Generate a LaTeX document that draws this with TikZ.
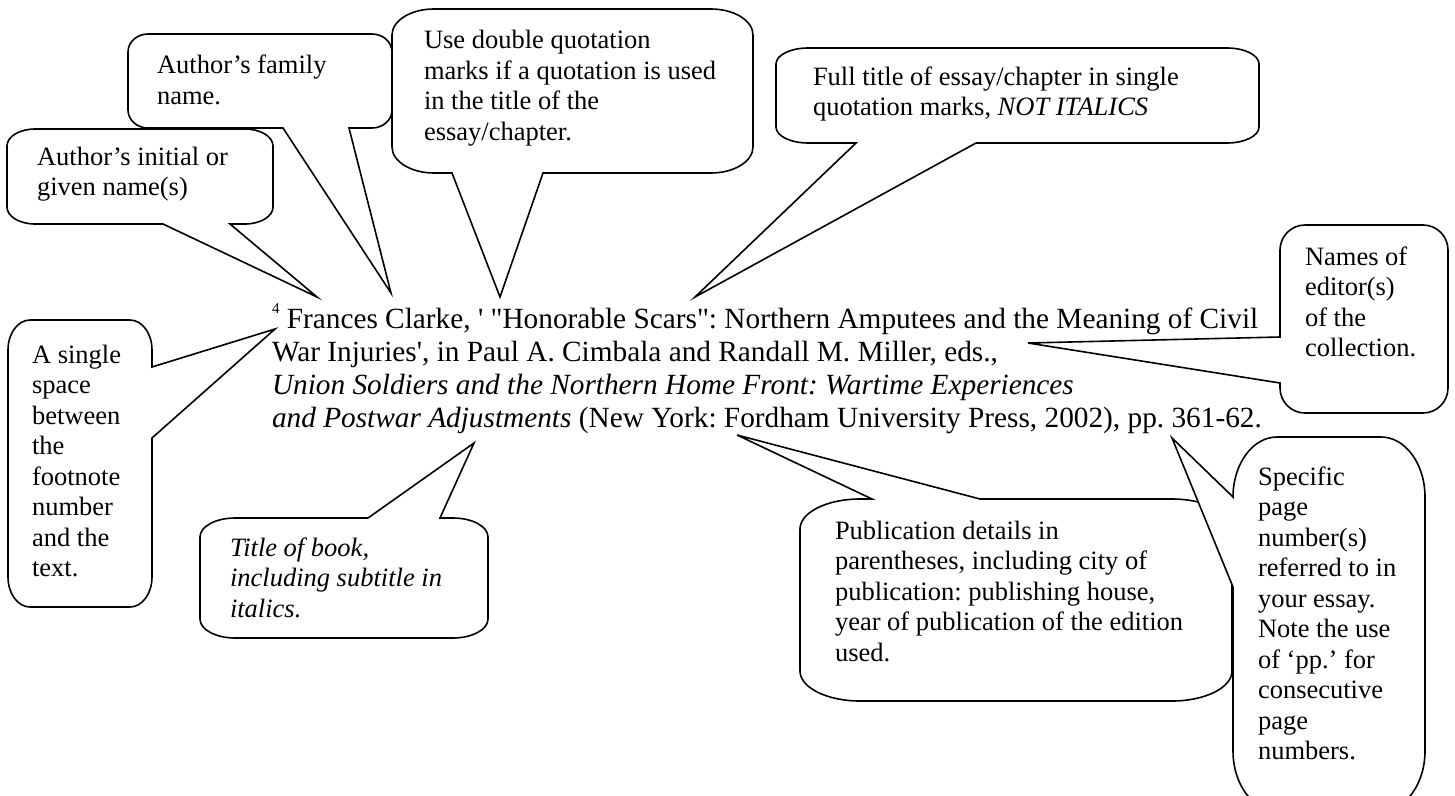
\documentclass[tikz,border=0pt]{standalone}
\usepackage{fontspec}
\setmainfont{Liberation Serif}[Ligatures=TeXOff]
\frenchspacing
\tikzset{
  callout/.style={draw=black, fill=white, line width=1.6pt, line join=miter},
  txt/.style={anchor=base west, inner sep=0pt, outer sep=0pt}
}
\newcommand\crad[2]{\def\crx{#1}\def\cry{#2}}
% #1 L, #2 T, #3 R, #4 B, #5 top fragment, #6 right fragment, #7 bottom fragment, #8 left fragment
\newcommand\cbox[8]{%
  \path[callout] ({#1+\crx},#2) #5 -- ({#3-\crx},#2)
    .. controls ({#3-0.4477*\crx},#2) and (#3,{#2+0.4477*\cry}) .. (#3,{#2+\cry})
    #6 -- (#3,{#4-\cry})
    .. controls (#3,{#4-0.4477*\cry}) and ({#3-0.4477*\crx},#4) .. ({#3-\crx},#4)
    #7 -- ({#1+\crx},#4)
    .. controls ({#1+0.4477*\crx},#4) and (#1,{#4-0.4477*\cry}) .. (#1,{#4-\cry})
    #8 -- (#1,{#2+\cry})
    .. controls (#1,{#2+0.4477*\cry}) and ({#1+0.4477*\crx},#2) .. ({#1+\crx},#2) -- cycle;}
\newcommand\ctext[1]{\parbox[t]{600pt}{\fontsize{26.5}{30.5}\selectfont\frenchspacing #1}}
\newcommand\mtext[1]{\parbox[t]{1150pt}{\fontsize{29.3}{33}\selectfont\frenchspacing #1}}

\begin{document}
\begin{tikzpicture}[x=1pt,y=-1pt]
\useasboundingbox (0,0) rectangle (1455,795);
\clip (0,0) rectangle (1455,795);

% pointer tips
\coordinate (tFam) at (391,293);
\coordinate (tIni) at (317,297);
\coordinate (tDbl) at (500,297);
\coordinate (tFull) at (695,297);
\coordinate (tEd) at (1028,343);
\coordinate (tSgl) at (275,329);
\coordinate (tTit) at (474,443);
\coordinate (tPub) at (737,435);
\coordinate (tSpc) at (1172,438);

% family name
\crad{20}{18}
\cbox{128}{34}{392}{128}{}{}{-- (349,128) -- (tFam) -- (283,128)}{}
\node[txt] (famtxt) at (157,73.5) {\ctext{Author’s family\\name.}};

% initial
\crad{28}{17}
\cbox{7}{129}{273}{224}{}{}{-- (230,224) -- (tIni) -- (163,224)}{}
\node[txt] (initxt) at (37,165) {\ctext{Author’s initial or\\given name(s)}};

% double quotation marks
\crad{42}{26}
\cbox{392}{9}{753}{173}{}{}{-- (543,173) -- (tDbl) -- (452,173)}{}
\node[txt] (dbltxt) at (424,48.5) {\ctext{Use double quotation\\marks if a quotation is used\\in the title of the\\essay/chapter.}};

% full title
\crad{32}{16}
\cbox{776}{48}{1259}{143}{}{}{-- (976,143) -- (tFull) -- (856,143)}{}
\node[txt] (fulltxt) at (813,85) {\ctext{Full title of essay/chapter in single\\quotation marks, \textit{NOT ITALICS}}};

% editors
\crad{25}{25}
\cbox{1280}{225}{1448}{413}{}{}{}{-- (1280,383) -- (tEd) -- (1280,337)}
\node[txt] (edtxt) at (1305,265) {\ctext{Names of\\editor(s)\\of the\\collection.}};

% single space
\crad{22}{30}
\cbox{8}{320}{152}{607}{}{-- (152,367) -- (tSgl) -- (152,438)}{}{}
\node[txt] (sgltxt) at (32,363) {\ctext{A single\\space\\between\\the\\footnote\\number\\and the\\text.}};

% title of book
\crad{35}{19}
\cbox{200}{518}{488}{638}{-- (368,518) -- (tTit) -- (440,518)}{}{}{}
\node[txt] (tittxt) at (230,556) {\ctext{\itshape Title of book,\\including subtitle in\\italics.}};

% publication details
\crad{60}{30}
\cbox{800}{499}{1232}{701}{-- (872,499) -- (tPub) -- (980,499)}{}{}{}
\node[txt] (pubtxt) at (835,539) {\ctext{Publication details in\\parentheses, including city of\\publication: publishing house,\\year of publication of the edition\\used.}};

% specific page numbers
\crad{44}{60}
\cbox{1233}{437}{1425}{811}{}{}{}{-- (1233,587) -- (tSpc) -- (1233,497)}
\node[txt] (spctxt) at (1258,485) {\ctext{Specific\\page\\number(s)\\referred to in\\your essay.\\Note the use\\of ‘pp.’ for\\consecutive\\page\\numbers.}};

% main footnote text
\node[txt] (main) at (272,328) {\mtext{\raisebox{15pt}{\fontsize{15}{15}\selectfont 4} Frances Clarke, ' "Honorable Scars": Northern Amputees and the Meaning of Civil\\
War Injuries', in Paul A. Cimbala and Randall M. Miller, eds.,\\
\textit{Union Soldiers and the Northern Home Front: Wartime Experiences}\\
\textit{and Postwar Adjustments} (New York: Fordham University Press, 2002), pp. 361-62.}};
\end{tikzpicture}
\end{document}
